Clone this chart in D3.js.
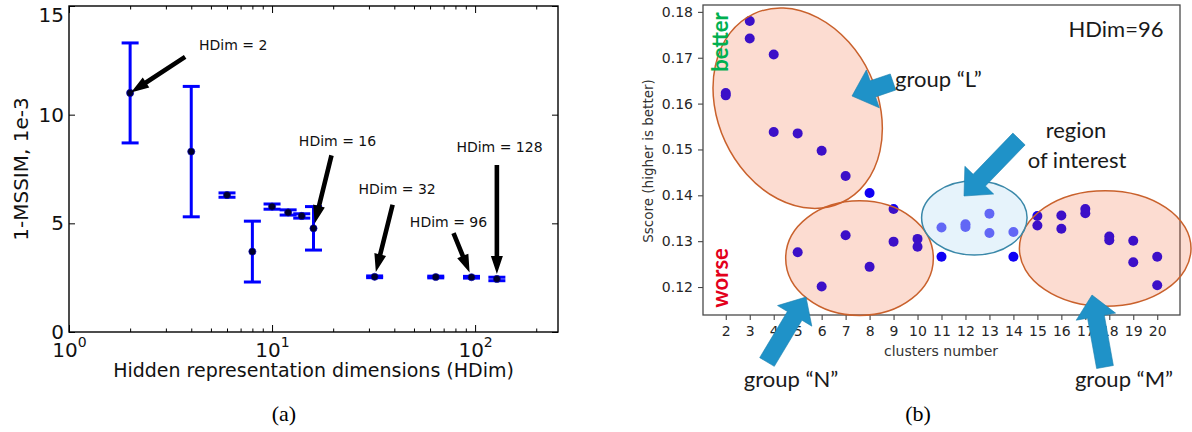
<!DOCTYPE html>
<html>
<head>
<meta charset="utf-8">
<script src="https://cdn.jsdelivr.net/npm/d3@7"></script>
<style>
  body { margin: 0; background: #fff; }
  text { font-family: "DejaVu Sans", sans-serif; }
</style>
</head>
<body>
<svg id="fig" width="1192" height="432"></svg>
<script>
// ---- panel (a): 1-MSSIM vs hidden dims
var hdim = [2, 4, 6, 8, 10, 12, 14, 16, 32, 64, 96, 128];
var mssim = [11.0, 8.3, 6.3, 3.7, 5.77, 5.5, 5.34, 4.77, 2.54, 2.53, 2.52, 2.44];
var mssimErr = [2.3, 3.0, 0.1, 1.4, 0.12, 0.12, 0.1, 1.0, 0.04, 0.04, 0.04, 0.08];
var yTicksA = [0, 5, 10, 15];
var xMajorA = [1, 10, 100];
var xMinorA = [2, 3, 4, 5, 6, 7, 8, 9, 20, 30, 40, 50, 60, 70, 80, 90, 200];
var noteDims = [2, 16, 32, 96, 128];
var noteLabels = ["HDim = 2", "HDim = 16", "HDim = 32", "HDim = 96", "HDim = 128"];

// ---- panel (b): Sscore vs clusters number (two runs per cluster count)
var clusters = [2, 3, 4, 5, 6, 7, 8, 9, 10, 11, 12, 13, 14, 15, 16, 17, 18, 19, 20];
var scoreHigh = [0.1623, 0.1780, 0.1707, 0.1535, 0.1497, 0.1442, 0.1405, 0.1370, 0.1305, 0.1330,
                 0.1337, 0.1360, 0.1320, 0.1355, 0.1356, 0.1370, 0.1310, 0.1301, 0.1266];
var scoreLow = [0.1618, 0.1742, 0.1538, 0.1276, 0.1201, 0.1313, 0.1244, 0.1299, 0.1288, 0.1266,
                0.1331, 0.1318, 0.1266, 0.1334, 0.1327, 0.1361, 0.1302, 0.1254, 0.1204];
var yTicksB = [0.12, 0.13, 0.14, 0.15, 0.16, 0.17, 0.18];
// hand drawn groups: [cx, cy] in data units, radii in data units, tilt in degrees
var groups = [
  {name: "L", c: [5.0, 0.1590], r: [3.33, 0.0227], tilt: -25},
  {name: "N", c: [7.58, 0.1263], r: [3.08, 0.0125], tilt: 0},
  {name: "M", c: [17.83, 0.1284], r: [3.58, 0.0126], tilt: 0}
];
var roi = {c: [12.37, 0.1351], r: [2.2, 0.0081]};

var svg = d3.select("#fig");

function blockArrow(g, x0, y0, x1, y1, w, H, h, fill) {
  var dx = x1 - x0, dy = y1 - y0, L = Math.hypot(dx, dy);
  var ux = dx / L, uy = dy / L, nx = -uy, ny = ux;
  var bx = x1 - ux * h, by = y1 - uy * h;
  var pts = [
    [x0 + nx * w / 2, y0 + ny * w / 2],
    [bx + nx * w / 2, by + ny * w / 2],
    [bx + nx * H / 2, by + ny * H / 2],
    [x1, y1],
    [bx - nx * H / 2, by - ny * H / 2],
    [bx - nx * w / 2, by - ny * w / 2],
    [x0 - nx * w / 2, y0 - ny * w / 2]
  ];
  return g.append("polygon").attr("points", pts.map(p => p.join(",")).join(" ")).attr("fill", fill);
}

/* ================= panel (a) ================= */
var xA = d3.scaleLog().domain([1, 256]).range([69, 558]);
var yA = d3.scaleLinear().domain([0, 15]).range([332, 6]);
var gA = svg.append("g");

// error bars
var eb = gA.selectAll(".eb").data(hdim).enter().append("g").attr("class", "eb");
eb.append("line")
  .attr("x1", d => xA(d)).attr("x2", d => xA(d))
  .attr("y1", (d, i) => yA(mssim[i] - mssimErr[i]))
  .attr("y2", (d, i) => yA(mssim[i] + mssimErr[i]))
  .attr("stroke", "#0000ff").attr("stroke-width", 3);
[-1, 1].forEach(function(s) {
  eb.append("line")
    .attr("x1", d => xA(d) - 8.5).attr("x2", d => xA(d) + 8.5)
    .attr("y1", (d, i) => yA(mssim[i] + s * mssimErr[i]))
    .attr("y2", (d, i) => yA(mssim[i] + s * mssimErr[i]))
    .attr("stroke", "#0000ff").attr("stroke-width", 3);
});
eb.append("circle")
  .attr("cx", d => xA(d)).attr("cy", (d, i) => yA(mssim[i]))
  .attr("r", 3.6).attr("fill", "#00002a").attr("stroke", "#0000cc").attr("stroke-width", 0.6);

// axes, ticks pointing inward on all sides
var axL = gA.append("g").attr("transform", "translate(69,0)")
  .call(d3.axisLeft(yA).tickValues(yTicksA).tickSizeInner(-6).tickSizeOuter(0).tickPadding(5));
axL.selectAll("text").style("font-size", "20px").attr("fill", "#111")
  .attr("y", d => d === 15 ? 9 : 0);
gA.append("g").attr("transform", "translate(558,0)")
  .call(d3.axisRight(yA).tickValues(yTicksA).tickSizeInner(-6).tickSizeOuter(0).tickFormat(""));

var axB = gA.append("g").attr("transform", "translate(0,332)")
  .call(d3.axisBottom(xA).tickValues(xMajorA).tickSizeInner(-7).tickSizeOuter(0).tickPadding(0).tickFormat(""));
axB.selectAll(".tick text").each(function(d) {
  var t = d3.select(this).attr("y", 25).attr("dy", null).style("font-size", "20px").attr("fill", "#111");
  t.append("tspan").text("10");
  t.append("tspan").text(Math.round(Math.log10(d))).attr("dy", -10).style("font-size", "14px");
});
gA.append("g").attr("transform", "translate(0,332)")
  .call(d3.axisBottom(xA).tickValues(xMinorA).tickSizeInner(-3.5).tickSizeOuter(0).tickFormat(""));
gA.append("g").attr("transform", "translate(0,6)")
  .call(d3.axisTop(xA).tickValues(xMajorA).tickSizeInner(-7).tickSizeOuter(0).tickFormat(""));
gA.append("g").attr("transform", "translate(0,6)")
  .call(d3.axisTop(xA).tickValues(xMinorA).tickSizeInner(-3.5).tickSizeOuter(0).tickFormat(""));
gA.selectAll(".domain").remove();
gA.selectAll(".tick line").attr("stroke", "#000").attr("stroke-width", 1);

gA.append("rect").attr("x", 69).attr("y", 6).attr("width", 558 - 69).attr("height", 332 - 6)
  .attr("fill", "none").attr("stroke", "#000").attr("stroke-width", 1.4);

gA.append("text").attr("transform", "translate(28,169) rotate(-90)")
  .attr("text-anchor", "middle").style("font-size", "20px").attr("fill", "#111")
  .text("1-MSSIM, 1e-3");
gA.append("text").attr("x", 313.5).attr("y", 377)
  .attr("text-anchor", "middle").style("font-size", "19px").attr("fill", "#111")
  .text("Hidden representation dimensions (HDim)");

// annotations: label and tail offsets from the marked point (px)
var noteOffsets = [[103, -48, 55, -36], [24, -87, 18, -73], [22.5, -88, 18, -72], [-23, -55, -18, -44], [2.6, -132, 0, -114]];
noteDims.forEach(function(dim, k) {
  var i = hdim.indexOf(dim);
  var px = xA(dim), py = yA(mssim[i]);
  var o = noteOffsets[k];
  var tx = px + o[2], ty = py + o[3];
  var L = Math.hypot(px - tx, py - ty), sh = k === 0 ? 1 : 5;
  var hx = px - (px - tx) / L * sh, hy = py - (py - ty) / L * sh;
  blockArrow(gA, tx, ty, hx, hy, 4.6, 12, 18, "#000");
  gA.append("text").attr("x", px + o[0]).attr("y", py + o[1] + 5)
    .attr("text-anchor", "middle").style("font-size", "14px").attr("fill", "#111")
    .text(noteLabels[k]);
});

gA.append("text").attr("x", 284).attr("y", 421).attr("text-anchor", "middle")
  .style("font-family", "'Liberation Serif', serif").style("font-size", "22px").text("(a)");

/* ================= panel (b) ================= */
var xB = d3.scaleLinear().domain([1.05, 20.95]).range([703, 1180]);
var yB = d3.scaleLinear().domain([0.1139, 0.1815]).range([315, 5]);
var gB = svg.append("g");

var dots = clusters.map((c, i) => [c, scoreHigh[i]]).concat(clusters.map((c, i) => [c, scoreLow[i]]));
gB.selectAll(".dot").data(dots).enter().append("circle").attr("class", "dot")
  .attr("cx", d => xB(d[0])).attr("cy", d => yB(d[1])).attr("r", 5)
  .attr("fill", "#1000f4");

var ay = gB.append("g").attr("transform", "translate(703,0)")
  .call(d3.axisLeft(yB).tickValues(yTicksB).tickSize(5).tickPadding(5).tickFormat(d3.format(".2f")));
var ax = gB.append("g").attr("transform", "translate(0,315)")
  .call(d3.axisBottom(xB).tickValues(clusters).tickSize(5).tickPadding(6).tickFormat(d3.format("d")));
gB.selectAll(".domain").remove();
gB.selectAll(".tick line").attr("stroke", "#444").attr("stroke-width", 1.1);
gB.selectAll(".tick text").style("font-size", "14px").attr("fill", "#262626");
gB.append("rect").attr("x", 703).attr("y", 5).attr("width", 1180 - 703).attr("height", 315 - 5)
  .attr("fill", "none").attr("stroke", "#4a4a4a").attr("stroke-width", 1.3);

gB.append("text").attr("transform", "translate(653,161) rotate(-90)")
  .attr("text-anchor", "middle").style("font-size", "13.5px").attr("fill", "#333")
  .text("Sscore (higher is better)");
gB.append("text").attr("x", 941).attr("y", 356)
  .attr("text-anchor", "middle").style("font-size", "14px").attr("fill", "#333")
  .text("clusters number");

// translucent hand drawn ellipses over the dots
groups.forEach(function(gr) {
  var cx = xB(gr.c[0]), cy = yB(gr.c[1]);
  gB.append("ellipse")
    .attr("cx", 0).attr("cy", 0)
    .attr("rx", xB(gr.c[0] + gr.r[0]) - cx).attr("ry", cy - yB(gr.c[1] + gr.r[1]))
    .attr("transform", "translate(" + cx + "," + cy + ") rotate(" + gr.tilt + ")")
    .attr("fill", "#f0501a").attr("fill-opacity", 0.2)
    .attr("stroke", "#c9612c").attr("stroke-width", 1.5);
});
var rcx = xB(roi.c[0]), rcy = yB(roi.c[1]);
gB.append("ellipse").attr("cx", rcx).attr("cy", rcy)
  .attr("rx", xB(roi.c[0] + roi.r[0]) - rcx).attr("ry", rcy - yB(roi.c[1] + roi.r[1]))
  .attr("fill", "rgb(200,229,247)").attr("fill-opacity", 0.45)
  .attr("stroke", "#3a88a9").attr("stroke-width", 1.5);

// blue call-out arrows (tail -> tip, px)
var callouts = [[893, 82, 852, 96], [1019, 139, 964, 196], [767, 362, 806, 297], [1105, 367, 1092, 295]];
callouts.forEach(function(a) {
  blockArrow(gB, a[0], a[1], a[2], a[3], 17, 40, 22, "#1f92c8")
    .attr("stroke", "#1a80ae").attr("stroke-width", 0.6);
});

var lato = "Lato, 'Open Sans', sans-serif";
function note(x, y, s, anchor) {
  return gB.append("text").attr("x", x).attr("y", y).attr("text-anchor", anchor || "middle")
    .style("font-family", lato).style("font-size", "22px").attr("fill", "#1a1a1a").text(s);
}
note(1116, 37, "HDim=96");
note(895, 87, "group \u201cL\u201d", "start");
note(1076, 138, "region");
note(1077, 168, "of interest");
note(791, 387, "group \u201cN\u201d");
note(1124, 387, "group \u201cM\u201d");

gB.append("text").attr("transform", "translate(728,42) rotate(-90)").attr("text-anchor", "middle")
  .style("font-family", lato).style("font-weight", "bold").style("font-size", "22px")
  .attr("fill", "#00b050").text("better");
gB.append("text").attr("transform", "translate(728,278) rotate(-90)").attr("text-anchor", "middle")
  .style("font-family", lato).style("font-weight", "bold").style("font-size", "22px")
  .attr("fill", "#e3001b").text("worse");

gB.append("text").attr("x", 918).attr("y", 421).attr("text-anchor", "middle")
  .style("font-family", "'Liberation Serif', serif").style("font-size", "22px").text("(b)");
</script>
</body>
</html>
